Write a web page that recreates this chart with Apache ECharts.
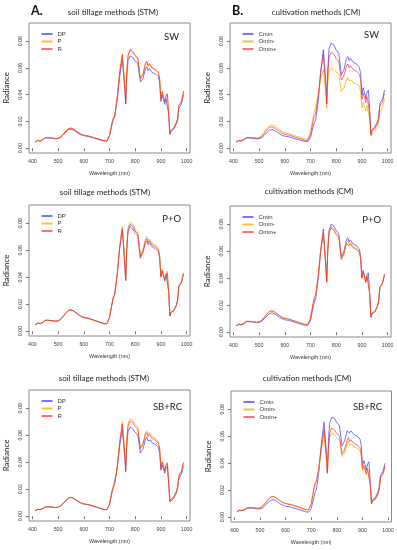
<!DOCTYPE html>
<html><head><meta charset="utf-8">
<script src="https://cdn.jsdelivr.net/npm/echarts@6/dist/echarts.min.js"></script>
<style>html,body{margin:0;padding:0;background:#fff}#c{width:397px;height:550px}</style>
</head><body><div id="c"></div>
<script>
// Wavelength (nm) sampling points
const wavelength = [410,420,430,440,450,460,470,480,490,500,510,520,530,540,550,560,570,580,590,600,620,640,660,680,690,
  700,710,715,720,730,740,750,755,760,763,767,772,780,790,
  800,810,815,820,830,840,845,850,855,860,865,870,880,890,895,
  900,905,910,915,920,925,930,935,940,950,960,965,970,975,980,988];
const xTicks = [400,500,600,700,800,900,1000];
const yTicks = [0,0.02,0.04,0.06,0.08];
const stmNames = ['DP','P','R'];
const cmNames = ['Cmin','Omin-','Omin+'];
const rowTitles = ['soil tillage methods (STM)','cultivation methods (CM)'];
const panelLabels = ['SW','P+O','SB+RC'];

// Row 1: SW
const stmSW_DP = [0.0045,0.0057,0.0054,0.0061,0.0076,0.0077,0.0075,0.0073,0.0070,0.0072,0.0080,0.0098,0.0120,0.0137,0.0142,0.0135,0.0122,0.0110,0.0099,0.0093,0.0086,0.0075,0.0063,0.0052,0.0054,
  0.0090,0.0180,0.0215,0.0230,0.0360,0.0540,0.0665,0.0655,0.0430,0.0330,0.0530,0.0650,0.0690,0.0680,
  0.0650,0.0635,0.0565,0.0495,0.0520,0.0595,0.0610,0.0580,0.0595,0.0590,0.0567,0.0572,0.0552,0.0535,0.0492,
  0.0350,0.0397,0.0365,0.0327,0.0370,0.0383,0.0255,0.0103,0.0127,0.0142,0.0180,0.0208,0.0300,0.0292,0.0330,0.0400];
const stmSW_P = [0.0045,0.0058,0.0055,0.0062,0.0078,0.0079,0.0077,0.0075,0.0072,0.0074,0.0085,0.0105,0.0129,0.0147,0.0152,0.0144,0.0130,0.0117,0.0105,0.0098,0.0091,0.0079,0.0067,0.0055,0.0057,
  0.0096,0.0192,0.0228,0.0243,0.0385,0.0575,0.0705,0.0695,0.0455,0.0343,0.0565,0.0695,0.0741,0.0726,
  0.0696,0.0676,0.0605,0.0525,0.0555,0.0636,0.0651,0.0621,0.0636,0.0631,0.0606,0.0611,0.0590,0.0570,0.0525,
  0.0373,0.0424,0.0389,0.0348,0.0394,0.0409,0.0272,0.0111,0.0136,0.0151,0.0192,0.0222,0.0323,0.0313,0.0353,0.0428];
const stmSW_R = [0.0045,0.0058,0.0052,0.0066,0.0078,0.0079,0.0077,0.0075,0.0072,0.0074,0.0085,0.0105,0.0128,0.0145,0.0150,0.0142,0.0128,0.0115,0.0103,0.0097,0.0090,0.0078,0.0066,0.0054,0.0056,
  0.0095,0.0190,0.0225,0.0240,0.0380,0.0570,0.0700,0.0690,0.0450,0.0340,0.0560,0.0690,0.0735,0.0720,
  0.0690,0.0670,0.0600,0.0520,0.0550,0.0630,0.0645,0.0615,0.0630,0.0625,0.0600,0.0605,0.0585,0.0565,0.0520,
  0.0370,0.0420,0.0385,0.0345,0.0390,0.0405,0.0270,0.0110,0.0135,0.0150,0.0190,0.0220,0.0320,0.0310,0.0350,0.0425];
const cmSW_Cmin = [0.0045,0.0056,0.0055,0.0060,0.0076,0.0077,0.0075,0.0073,0.0070,0.0071,0.0079,0.0096,0.0117,0.0134,0.0140,0.0133,0.0120,0.0107,0.0096,0.0090,0.0083,0.0071,0.0060,0.0049,0.0050,
  0.0080,0.0160,0.0190,0.0210,0.0350,0.0580,0.0735,0.0745,0.0480,0.0330,0.0580,0.0740,0.0785,0.0775,
  0.0735,0.0710,0.0630,0.0550,0.0585,0.0670,0.0685,0.0655,0.0672,0.0668,0.0645,0.0648,0.0628,0.0605,0.0560,
  0.0400,0.0452,0.0415,0.0372,0.0420,0.0435,0.0290,0.0105,0.0140,0.0155,0.0195,0.0228,0.0335,0.0325,0.0365,0.0435];
const cmSW_OminM = [0.0047,0.0058,0.0057,0.0063,0.0079,0.0081,0.0080,0.0078,0.0076,0.0079,0.0094,0.0120,0.0148,0.0168,0.0175,0.0168,0.0153,0.0138,0.0124,0.0116,0.0107,0.0093,0.0080,0.0066,0.0068,
  0.0120,0.0230,0.0270,0.0280,0.0400,0.0520,0.0590,0.0590,0.0400,0.0300,0.0480,0.0570,0.0600,0.0590,
  0.0570,0.0550,0.0490,0.0425,0.0450,0.0510,0.0530,0.0505,0.0515,0.0510,0.0490,0.0495,0.0480,0.0460,0.0425,
  0.0300,0.0340,0.0310,0.0280,0.0320,0.0330,0.0220,0.0090,0.0110,0.0130,0.0160,0.0190,0.0270,0.0260,0.0300,0.0370];
const cmSW_OminP = [0.0046,0.0058,0.0052,0.0066,0.0078,0.0079,0.0078,0.0076,0.0073,0.0075,0.0087,0.0110,0.0136,0.0154,0.0160,0.0152,0.0138,0.0124,0.0111,0.0104,0.0096,0.0083,0.0071,0.0058,0.0060,
  0.0100,0.0200,0.0240,0.0255,0.0385,0.0570,0.0700,0.0705,0.0460,0.0330,0.0540,0.0680,0.0715,0.0705,
  0.0670,0.0650,0.0580,0.0510,0.0540,0.0615,0.0630,0.0602,0.0617,0.0612,0.0590,0.0594,0.0575,0.0553,0.0512,
  0.0365,0.0412,0.0378,0.0340,0.0385,0.0398,0.0265,0.0100,0.0130,0.0145,0.0185,0.0215,0.0315,0.0305,0.0345,0.0410];

// Row 2: P+O
const stmPO_DP = [0.0046,0.0059,0.0057,0.0063,0.0080,0.0081,0.0079,0.0077,0.0074,0.0076,0.0088,0.0110,0.0135,0.0153,0.0158,0.0150,0.0136,0.0122,0.0109,0.0102,0.0094,0.0081,0.0068,0.0055,0.0057,
  0.0100,0.0205,0.0250,0.0270,0.0422,0.0625,0.0765,0.0760,0.0485,0.0378,0.0610,0.0750,0.0792,0.0778,
  0.0742,0.0722,0.0640,0.0553,0.0594,0.0670,0.0686,0.0655,0.0671,0.0666,0.0640,0.0645,0.0625,0.0604,0.0558,
  0.0408,0.0455,0.0418,0.0377,0.0424,0.0438,0.0296,0.0114,0.0142,0.0152,0.0192,0.0233,0.0334,0.0324,0.0364,0.0428];
const stmPO_P = [0.0046,0.0059,0.0057,0.0063,0.0079,0.0080,0.0078,0.0076,0.0073,0.0075,0.0087,0.0109,0.0134,0.0152,0.0157,0.0148,0.0134,0.0119,0.0106,0.0099,0.0091,0.0078,0.0066,0.0054,0.0056,
  0.0100,0.0206,0.0252,0.0272,0.0425,0.0630,0.0775,0.0772,0.0490,0.0380,0.0620,0.0765,0.0810,0.0795,
  0.0758,0.0738,0.0655,0.0565,0.0607,0.0685,0.0702,0.0670,0.0686,0.0681,0.0655,0.0660,0.0640,0.0618,0.0570,
  0.0415,0.0462,0.0425,0.0383,0.0431,0.0446,0.0300,0.0115,0.0143,0.0153,0.0193,0.0235,0.0337,0.0327,0.0367,0.0432];
const stmPO_R = [0.0046,0.0060,0.0054,0.0066,0.0080,0.0081,0.0079,0.0077,0.0074,0.0076,0.0088,0.0110,0.0135,0.0153,0.0158,0.0150,0.0136,0.0122,0.0109,0.0102,0.0094,0.0081,0.0068,0.0055,0.0057,
  0.0100,0.0205,0.0250,0.0270,0.0420,0.0620,0.0755,0.0750,0.0480,0.0375,0.0600,0.0735,0.0775,0.0760,
  0.0725,0.0705,0.0625,0.0540,0.0580,0.0655,0.0670,0.0640,0.0655,0.0650,0.0625,0.0630,0.0610,0.0590,0.0545,
  0.0400,0.0445,0.0410,0.0370,0.0415,0.0430,0.0290,0.0112,0.0140,0.0150,0.0190,0.0230,0.0330,0.0320,0.0360,0.0425];
const cmPO_Cmin = [0.0045,0.0057,0.0055,0.0061,0.0077,0.0078,0.0076,0.0074,0.0071,0.0072,0.0081,0.0099,0.0120,0.0137,0.0143,0.0136,0.0123,0.0110,0.0099,0.0092,0.0085,0.0073,0.0061,0.0050,0.0052,
  0.0088,0.0180,0.0225,0.0245,0.0390,0.0610,0.0765,0.0770,0.0490,0.0375,0.0610,0.0755,0.0800,0.0790,
  0.0755,0.0730,0.0648,0.0560,0.0602,0.0685,0.0700,0.0668,0.0685,0.0680,0.0655,0.0660,0.0640,0.0615,0.0568,
  0.0410,0.0458,0.0420,0.0378,0.0425,0.0440,0.0296,0.0112,0.0142,0.0152,0.0192,0.0232,0.0335,0.0325,0.0365,0.0430];
const cmPO_OminM = [0.0046,0.0059,0.0057,0.0063,0.0079,0.0080,0.0078,0.0076,0.0073,0.0075,0.0087,0.0109,0.0133,0.0151,0.0157,0.0149,0.0135,0.0121,0.0108,0.0101,0.0093,0.0080,0.0068,0.0055,0.0057,
  0.0102,0.0210,0.0256,0.0275,0.0418,0.0612,0.0750,0.0748,0.0478,0.0372,0.0598,0.0738,0.0782,0.0768,
  0.0733,0.0712,0.0632,0.0547,0.0587,0.0664,0.0680,0.0650,0.0665,0.0660,0.0636,0.0640,0.0620,0.0598,0.0552,
  0.0402,0.0448,0.0413,0.0372,0.0418,0.0432,0.0290,0.0110,0.0140,0.0150,0.0190,0.0230,0.0332,0.0322,0.0362,0.0428];
const cmPO_OminP = [0.0046,0.0060,0.0054,0.0066,0.0080,0.0081,0.0079,0.0077,0.0074,0.0076,0.0088,0.0111,0.0136,0.0153,0.0159,0.0151,0.0137,0.0123,0.0110,0.0103,0.0095,0.0082,0.0069,0.0056,0.0058,
  0.0104,0.0212,0.0258,0.0276,0.0418,0.0608,0.0742,0.0742,0.0475,0.0370,0.0592,0.0730,0.0772,0.0758,
  0.0724,0.0703,0.0624,0.0540,0.0580,0.0656,0.0670,0.0641,0.0657,0.0652,0.0628,0.0632,0.0612,0.0591,0.0546,
  0.0398,0.0444,0.0408,0.0368,0.0414,0.0428,0.0288,0.0110,0.0139,0.0149,0.0189,0.0228,0.0330,0.0320,0.0360,0.0426];

// Row 3: SB+RC
const stmSB_DP = [0.0040,0.0050,0.0049,0.0054,0.0068,0.0069,0.0068,0.0066,0.0064,0.0066,0.0076,0.0094,0.0116,0.0133,0.0139,0.0132,0.0119,0.0107,0.0096,0.0090,0.0084,0.0072,0.0060,0.0048,0.0049,
  0.0085,0.0180,0.0213,0.0226,0.0350,0.0525,0.0645,0.0640,0.0415,0.0330,0.0515,0.0625,0.0660,0.0650,
  0.0622,0.0603,0.0538,0.0470,0.0497,0.0568,0.0585,0.0558,0.0572,0.0565,0.0545,0.0548,0.0530,0.0512,0.0472,
  0.0340,0.0378,0.0350,0.0318,0.0355,0.0370,0.0248,0.0105,0.0119,0.0133,0.0171,0.0204,0.0280,0.0276,0.0314,0.0372];
const stmSB_P = [0.0040,0.0050,0.0049,0.0054,0.0068,0.0069,0.0068,0.0066,0.0064,0.0066,0.0076,0.0094,0.0116,0.0133,0.0139,0.0132,0.0119,0.0107,0.0096,0.0090,0.0084,0.0072,0.0060,0.0048,0.0049,
  0.0088,0.0186,0.0222,0.0238,0.0370,0.0560,0.0700,0.0695,0.0450,0.0352,0.0560,0.0682,0.0725,0.0712,
  0.0682,0.0662,0.0590,0.0512,0.0543,0.0620,0.0635,0.0606,0.0621,0.0614,0.0592,0.0596,0.0577,0.0556,0.0512,
  0.0368,0.0408,0.0378,0.0342,0.0383,0.0398,0.0265,0.0112,0.0128,0.0143,0.0184,0.0220,0.0302,0.0297,0.0338,0.0402];
const stmSB_R = [0.0040,0.0050,0.0046,0.0057,0.0068,0.0069,0.0068,0.0066,0.0064,0.0066,0.0076,0.0095,0.0117,0.0134,0.0140,0.0133,0.0120,0.0108,0.0097,0.0091,0.0085,0.0073,0.0061,0.0049,0.0050,
  0.0088,0.0185,0.0220,0.0235,0.0365,0.0550,0.0685,0.0680,0.0440,0.0345,0.0545,0.0665,0.0705,0.0695,
  0.0665,0.0645,0.0575,0.0500,0.0530,0.0605,0.0620,0.0592,0.0607,0.0600,0.0578,0.0582,0.0563,0.0543,0.0500,
  0.0360,0.0400,0.0370,0.0335,0.0375,0.0390,0.0260,0.0110,0.0125,0.0140,0.0180,0.0215,0.0295,0.0290,0.0330,0.0395];
const cmSB_Cmin = [0.0040,0.0050,0.0049,0.0054,0.0066,0.0067,0.0066,0.0064,0.0061,0.0061,0.0069,0.0085,0.0106,0.0123,0.0130,0.0124,0.0111,0.0098,0.0087,0.0081,0.0075,0.0063,0.0052,0.0038,0.0038,
  0.0065,0.0145,0.0185,0.0205,0.0340,0.0555,0.0705,0.0715,0.0460,0.0330,0.0560,0.0700,0.0740,0.0735,
  0.0700,0.0680,0.0605,0.0530,0.0565,0.0640,0.0652,0.0625,0.0640,0.0635,0.0615,0.0618,0.0600,0.0580,0.0535,
  0.0385,0.0420,0.0390,0.0350,0.0395,0.0410,0.0275,0.0105,0.0130,0.0145,0.0185,0.0220,0.0310,0.0305,0.0340,0.0400];
const cmSB_OminM = [0.0041,0.0051,0.0050,0.0055,0.0068,0.0070,0.0069,0.0067,0.0065,0.0067,0.0079,0.0100,0.0125,0.0143,0.0150,0.0143,0.0130,0.0117,0.0105,0.0099,0.0092,0.0080,0.0067,0.0053,0.0055,
  0.0095,0.0200,0.0245,0.0260,0.0360,0.0505,0.0615,0.0618,0.0400,0.0320,0.0485,0.0592,0.0625,0.0615,
  0.0588,0.0570,0.0510,0.0450,0.0478,0.0545,0.0560,0.0533,0.0547,0.0542,0.0522,0.0526,0.0510,0.0492,0.0455,
  0.0345,0.0368,0.0345,0.0312,0.0345,0.0356,0.0240,0.0097,0.0118,0.0130,0.0166,0.0198,0.0285,0.0280,0.0315,0.0370];
const cmSB_OminP = [0.0041,0.0051,0.0047,0.0058,0.0069,0.0071,0.0070,0.0068,0.0066,0.0068,0.0081,0.0103,0.0128,0.0148,0.0155,0.0148,0.0135,0.0121,0.0109,0.0102,0.0095,0.0083,0.0070,0.0055,0.0057,
  0.0100,0.0210,0.0255,0.0270,0.0375,0.0530,0.0650,0.0655,0.0420,0.0330,0.0510,0.0625,0.0660,0.0650,
  0.0620,0.0600,0.0535,0.0470,0.0500,0.0570,0.0590,0.0560,0.0575,0.0570,0.0548,0.0552,0.0535,0.0515,0.0475,
  0.0360,0.0385,0.0360,0.0325,0.0360,0.0372,0.0250,0.0100,0.0122,0.0135,0.0172,0.0205,0.0295,0.0290,0.0325,0.0380];

// ---------- layout ----------
const colors = ['rgba(30,30,255,0.62)','rgba(255,170,0,0.75)','rgba(255,25,25,0.62)'];
const layout = [
  {l:29, t:23,  h:130, col:0, row:0, names:stmNames, d:[stmSW_DP,stmSW_P,stmSW_R], tx:113, ty:8,   lx:179, ly:32},
  {l:230,t:23,  h:130, col:1, row:0, names:cmNames,  d:[cmSW_Cmin,cmSW_OminM,cmSW_OminP], tx:316, ty:8.5, lx:379, ly:30},
  {l:29, t:205, h:131, col:0, row:1, names:stmNames, d:[stmPO_DP,stmPO_P,stmPO_R], tx:105, ty:188, lx:181, ly:214},
  {l:230,t:206, h:131, col:1, row:1, names:cmNames,  d:[cmPO_Cmin,cmPO_OminM,cmPO_OminP], tx:309, ty:187, lx:381, ly:215},
  {l:29, t:390, h:131, col:0, row:2, names:stmNames, d:[stmSB_DP,stmSB_P,stmSB_R], tx:104, ty:374, lx:182, ly:402},
  {l:231,t:391, h:131, col:1, row:2, names:cmNames,  d:[cmSB_Cmin,cmSB_OminM,cmSB_OminP], tx:307, ty:374, lx:382, ly:402}
];
const W = 161;
const titleFont = 'Lato, "Open Sans", sans-serif';
const axisFont = '"Liberation Sans", Arial, sans-serif';

const option = {animation:false, backgroundColor:'#fff', title:[], grid:[], xAxis:[], yAxis:[], legend:[], series:[]};
option.title.push({text:'A.', left:31, top:4, padding:0, textStyle:{fontFamily:titleFont, fontWeight:'bold', fontSize:12.5, color:'#111'}});
option.title.push({text:'B.', left:232, top:4, padding:0, textStyle:{fontFamily:titleFont, fontWeight:'bold', fontSize:12.5, color:'#111'}});

layout.forEach((p,i)=>{
  option.title.push({text:rowTitles[p.col], left:p.tx, top:p.ty, textAlign:'center', padding:0,
    textStyle:{fontFamily:titleFont, fontWeight:'normal', fontSize:8, color:'#222'}});
  option.title.push({text:panelLabels[p.row], left:p.lx, top:p.ly, textAlign:'right', padding:0,
    textStyle:{fontFamily:titleFont, fontWeight:'normal', fontSize:9.5, color:'#222'}});
  option.grid.push({left:p.l, top:p.t, width:W, height:p.h, show:true, borderColor:'#8a8a8a', borderWidth:1, containLabel:false});
  option.xAxis.push({type:'value', gridIndex:i, min:386.8, max:1013.2,
    name:'Wavelength (nm)', nameLocation:'middle', nameGap:18,
    nameTextStyle:{fontFamily:axisFont, fontSize:5.4, color:'#333'},
    axisLine:{show:false}, splitLine:{show:false},
    axisTick:{show:true, length:3, customValues:xTicks, lineStyle:{color:'#555', width:0.8}},
    axisLabel:{customValues:xTicks, fontFamily:axisFont, fontSize:5.3, color:'#444', margin:6,
      formatter:v=>String(v)}});
  option.yAxis.push({type:'value', gridIndex:i, min:-0.0036, max:0.0936,
    name:'Radiance', nameLocation:'middle', nameGap:19,
    nameTextStyle:{fontFamily:titleFont, fontSize:8, color:'#222'},
    axisLine:{show:false}, splitLine:{show:false},
    axisTick:{show:true, length:3, customValues:yTicks, lineStyle:{color:'#555', width:0.8}},
    axisLabel:{customValues:yTicks, rotate:90, fontFamily:axisFont, fontSize:5.3, color:'#444', margin:6,
      formatter:v=>v.toFixed(2)}});
  option.legend.push({data:p.names, left:p.l+12.5, top:p.t+7.5, orient:'vertical', icon:'rect',
    itemWidth:11, itemHeight:2, itemGap:0.5, padding:0, selectedMode:false,
    textStyle:{fontFamily:axisFont, fontSize:6, lineHeight:7, color:'#333'}});
  p.names.forEach((nm,k)=>{
    option.series.push({type:'line', name:nm, xAxisIndex:i, yAxisIndex:i, color:colors[k],
      symbol:'none', showSymbol:false, silent:true,
      lineStyle:{width:1, color:colors[k]},
      data:wavelength.map((w,j)=>[w, p.d[k][j]])});
  });
});

const chart = echarts.init(document.getElementById('c'), null, {renderer:'canvas'});
chart.setOption(option);
</script>
</body></html>
